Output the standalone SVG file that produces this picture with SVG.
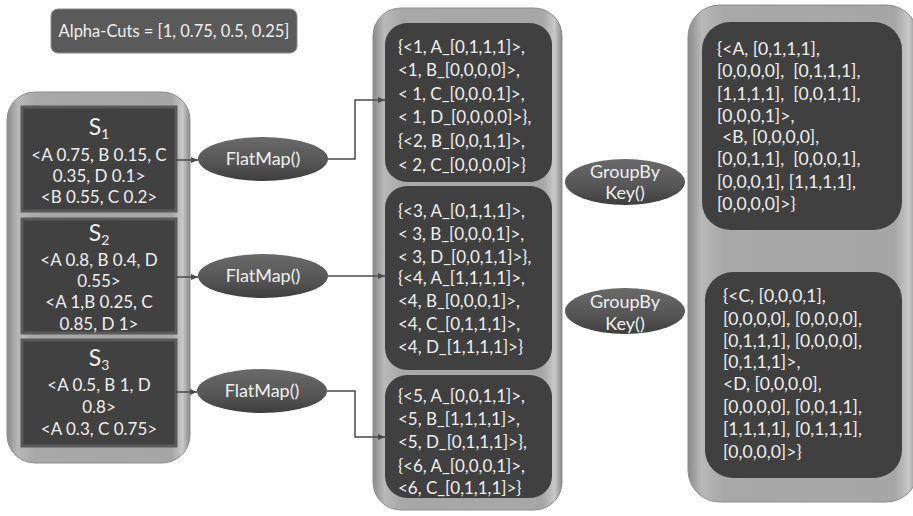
<svg xmlns="http://www.w3.org/2000/svg" width="913" height="516" viewBox="0 0 913 516">
<style>
.t{font-family:Lato,"Open Sans","Liberation Sans",sans-serif;fill:#f0f0f0}
.c{text-anchor:middle}
.f16{font-size:16.5px}
.f17{font-size:17px}
.f175{font-size:17.5px}
.f18{font-size:18px}
.h{font-size:23px}
.sub{font-size:14px}
.pre{white-space:pre}
.box{fill:#404040}
.sbox{fill:#414141;stroke:#5a5a5a;stroke-width:3}
.cont{stroke:#8c8c8c;stroke-width:1}
.ell{fill:url(#eg)}
.con{fill:none;stroke:#4a4a4a;stroke-width:1.5;marker-end:url(#ah)}
</style>
<defs>
<linearGradient id="cg" x1="0" y1="0" x2="1" y2="0">
<stop offset="0" stop-color="#8a8a8a"/>
<stop offset="0.06" stop-color="#b8b8b8"/>
<stop offset="0.15" stop-color="#a8a8a8"/>
<stop offset="0.9" stop-color="#a6a6a6"/>
<stop offset="0.96" stop-color="#c8c8c8"/>
<stop offset="1" stop-color="#8a8a8a"/>
</linearGradient>
<linearGradient id="eg" x1="0" y1="0" x2="0" y2="1">
<stop offset="0" stop-color="#6a6a6a"/>
<stop offset="0.6" stop-color="#555555"/>
<stop offset="1" stop-color="#3e3e3e"/>
</linearGradient>
<marker id="ah" markerWidth="8" markerHeight="8" refX="7" refY="4" orient="auto" markerUnits="userSpaceOnUse">
<path d="M0,1 L7,4 L0,7 z" fill="#4a4a4a"/>
</marker>
</defs>

<g id="alpha">
<rect x="51" y="9" width="246" height="44" rx="7" fill="#5a5a5a" stroke="#8a8a8a" stroke-width="1"/>
<text class="t c f16" x="174" y="37">Alpha-Cuts = [1, 0.75, 0.5, 0.25]</text>
</g>

<g id="sources">
<rect class="cont" x="7" y="92" width="183" height="371" rx="28" fill="url(#cg)"/>
</g>
<g id="s1">
<rect class="sbox" x="22" y="107" width="154" height="104"/>
<text class="t c h" x="99" y="135">S<tspan class="sub" dy="4">1</tspan></text>
<text class="t c f17" x="99" y="161">&lt;A 0.75, B 0.15, C</text>
<text class="t c f17" x="99" y="182">0.35, D 0.1&gt;</text>
<text class="t c f17" x="99" y="203">&lt;B 0.55, C 0.2&gt;</text>
</g>
<g id="s2">
<rect class="sbox" x="22" y="219" width="154" height="114"/>
<text class="t c h" x="99" y="241">S<tspan class="sub" dy="4">2</tspan></text>
<text class="t c f17" x="99" y="266">&lt;A 0.8, B 0.4, D</text>
<text class="t c f17" x="99" y="287">0.55&gt;</text>
<text class="t c f17" x="99" y="308">&lt;A 1,B 0.25, C</text>
<text class="t c f17" x="99" y="330">0.85, D 1&gt;</text>
</g>
<g id="s3">
<rect class="sbox" x="22" y="340" width="154" height="106"/>
<text class="t c h" x="99" y="366">S<tspan class="sub" dy="4">3</tspan></text>
<text class="t c f17" x="99" y="391">&lt;A 0.5, B 1, D</text>
<text class="t c f17" x="99" y="413">0.8&gt;</text>
<text class="t c f17" x="99" y="435">&lt;A 0.3, C 0.75&gt;</text>
</g>

<g id="flatmap1">
<ellipse class="ell" cx="263" cy="159" rx="65" ry="22"/>
<text class="t c f18" x="263" y="165">FlatMap()</text>
</g>
<g id="flatmap2">
<ellipse class="ell" cx="263" cy="276" rx="65" ry="22"/>
<text class="t c f18" x="263" y="282">FlatMap()</text>
</g>
<g id="flatmap3">
<ellipse class="ell" cx="262" cy="391" rx="65" ry="22"/>
<text class="t c f18" x="262" y="397">FlatMap()</text>
</g>

<g id="middle">
<rect class="cont" x="373" y="8" width="189" height="502" rx="28" fill="url(#cg)"/>
</g>
<g id="m1">
<rect class="box" x="385" y="23" width="167" height="159" rx="22"/>
<text class="t f17" x="398" y="53">{&lt;1, A_[0,1,1,1]&gt;,</text>
<text class="t f17" x="398" y="76">&lt;1, B_[0,0,0,0]&gt;,</text>
<text class="t f17" x="398" y="100">&lt; 1, C_[0,0,0,1]&gt;,</text>
<text class="t f17" x="398" y="123">&lt; 1, D_[0,0,0,0]&gt;},</text>
<text class="t f17" x="398" y="147">{&lt;2, B_[0,0,1,1]&gt;,</text>
<text class="t f17" x="398" y="171">&lt; 2, C_[0,0,0,0]&gt;}</text>
</g>
<g id="m2">
<rect class="box" x="385" y="186" width="167" height="184" rx="22"/>
<text class="t f17" x="398" y="217">{&lt;3, A_[0,1,1,1]&gt;,</text>
<text class="t f17" x="398" y="240">&lt; 3, B_[0,0,0,1]&gt;,</text>
<text class="t f17" x="398" y="263">&lt; 3, D_[0,0,1,1]&gt;},</text>
<text class="t f17" x="398" y="284">{&lt;4, A_[1,1,1,1]&gt;,</text>
<text class="t f17" x="398" y="307">&lt;4, B_[0,0,0,1]&gt;,</text>
<text class="t f17" x="398" y="330">&lt;4, C_[0,1,1,1]&gt;,</text>
<text class="t f17" x="398" y="353">&lt;4, D_[1,1,1,1]&gt;}</text>
</g>
<g id="m3">
<rect class="box" x="385" y="375" width="167" height="123" rx="22"/>
<text class="t f17" x="398" y="402">{&lt;5, A_[0,0,1,1]&gt;,</text>
<text class="t f17" x="398" y="425">&lt;5, B_[1,1,1,1]&gt;,</text>
<text class="t f17" x="398" y="448">&lt;5, D_[0,1,1,1]&gt;},</text>
<text class="t f17" x="398" y="472">{&lt;6, A_[0,0,0,1]&gt;,</text>
<text class="t f17" x="398" y="494">&lt;6, C_[0,1,1,1]&gt;}</text>
</g>

<g id="groupby1">
<ellipse class="ell" cx="625" cy="182" rx="60" ry="23"/>
<text class="t c f18" x="625" y="178">GroupBy</text>
<text class="t c f18" x="625" y="199">Key()</text>
</g>
<g id="groupby2">
<ellipse class="ell" cx="625" cy="311" rx="60" ry="23"/>
<text class="t c f18" x="625" y="308">GroupBy</text>
<text class="t c f18" x="625" y="330">Key()</text>
</g>

<g id="right">
<rect class="cont" x="688" y="5" width="230" height="497" rx="32" fill="url(#cg)"/>
</g>
<g id="r1">
<rect class="box" x="702" y="22" width="200" height="208" rx="28"/>
<text class="t f175" x="717" y="55">{&lt;A, [0,1,1,1],</text>
<text class="t f175 pre" x="717" y="77">[0,0,0,0],  [0,1,1,1],</text>
<text class="t f175 pre" x="717" y="100">[1,1,1,1],  [0,0,1,1],</text>
<text class="t f175" x="717" y="122">[0,0,0,1]&gt;,</text>
<text class="t f175" x="722" y="143">&lt;B, [0,0,0,0],</text>
<text class="t f175 pre" x="717" y="165">[0,0,1,1],  [0,0,0,1],</text>
<text class="t f175" x="717" y="188">[0,0,0,1], [1,1,1,1],</text>
<text class="t f175" x="717" y="210">[0,0,0,0]&gt;}</text>
</g>
<g id="r2">
<rect class="box" x="705" y="272" width="197" height="206" rx="28"/>
<text class="t f175" x="723" y="302">{&lt;C, [0,0,0,1],</text>
<text class="t f175" x="723" y="325">[0,0,0,0], [0,0,0,0],</text>
<text class="t f175" x="723" y="347">[0,1,1,1], [0,0,0,0],</text>
<text class="t f175" x="723" y="368">[0,1,1,1]&gt;,</text>
<text class="t f175" x="723" y="390">&lt;D, [0,0,0,0],</text>
<text class="t f175" x="723" y="413">[0,0,0,0], [0,0,1,1],</text>
<text class="t f175" x="723" y="435">[1,1,1,1], [0,1,1,1],</text>
<text class="t f175" x="723" y="458">[0,0,0,0]&gt;}</text>
</g>

<g id="connectors">
<path class="con" d="M176,160 H198"/>
<path class="con" d="M176,277 H198"/>
<path class="con" d="M176,392 H197"/>
<path class="con" d="M328,159 H355 V100 H385"/>
<path class="con" d="M328,276 H385"/>
<path class="con" d="M327,391 H355 V437 H385"/>
</g>
</svg>
